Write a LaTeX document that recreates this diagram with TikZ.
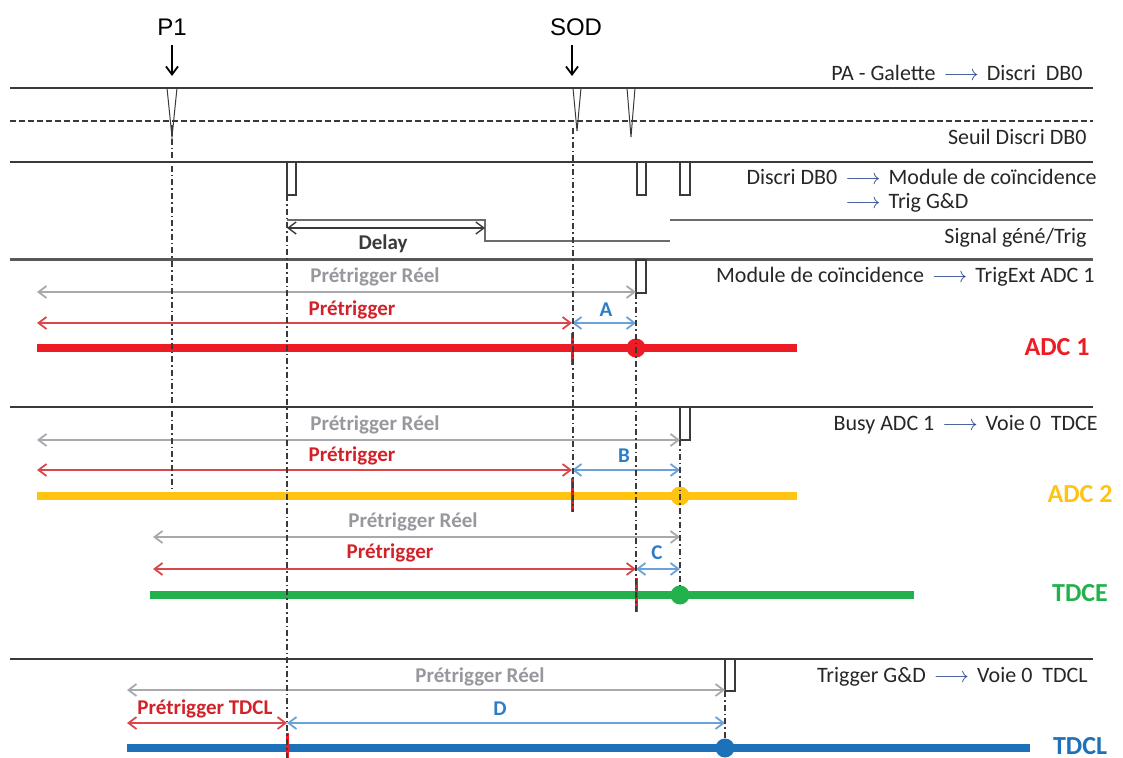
\documentclass[tikz,border=0pt]{standalone}
\usepackage{fontspec}
\setmainfont{Carlito}
\newfontfamily\arialfont{Liberation Sans}
\usetikzlibrary{positioning, arrows.meta, calc}
\definecolor{sigDark}{HTML}{3A3A3A}
\definecolor{sigGray}{HTML}{A8A8AE}
\definecolor{sigRed}{HTML}{D22229}
\definecolor{sigRedSoft}{HTML}{D9474D}
\definecolor{sigBlue}{HTML}{2D7CC6}
\definecolor{sigBlueSoft}{HTML}{6AA2D9}
\definecolor{sigNavy}{HTML}{2F4B8C}
\definecolor{barRed}{HTML}{ED1C24}
\definecolor{barYellow}{HTML}{FFC412}
\definecolor{barGreen}{HTML}{22B14C}
\definecolor{barBlue}{HTML}{1C71B8}
\newcommand{\toarrow}{\kern4pt{\color{sigNavy}$\longrightarrow$}\kern4pt}

\begin{document}
\begin{tikzpicture}[x=0.5pt, y=-0.5pt,
    >={Straight Barb[length=4pt, width=6pt]},
    wire/.style={draw=sigDark, line width=0.9pt},
    wireSoft/.style={draw=sigDark!75, line width=1.1pt},
    wireBold/.style={draw=sigDark!85, line width=1.5pt},
    thresh/.style={draw=sigDark, line width=0.7pt, dash pattern=on 3pt off 1.5pt},
    vGuide/.style={draw=sigDark, line width=0.6pt, dash pattern=on 3pt off 1.5pt on 0.8pt off 1.5pt},
    pulseBox/.style={draw=sigDark, line width=0.6pt, fill=white},
    spike/.style={draw=sigDark, line width=0.5pt},
    evArrow/.style={draw=black, line width=0.9pt, -{Straight Barb[length=4pt, width=6pt]}},
    dimGray/.style={draw=sigGray, line width=0.9pt, <->},
    dimRed/.style={draw=sigRedSoft, line width=0.9pt, <->},
    dimBlue/.style={draw=sigBlueSoft, line width=0.9pt, <->},
    dimDark/.style={draw=sigDark, line width=0.7pt, <->},
    chanBar/.style={line width=4.3pt},
    trigTick/.style={draw=barRed, line width=1.5pt},
    evDot/.style={circle, inner sep=0pt, minimum size=9.5pt},
    sigLabel/.style={font=\fontsize{11}{13}\selectfont, text=black!85, anchor=east, inner sep=0pt},
    grayLabel/.style={font=\fontsize{10.5}{12}\selectfont\bfseries, text=sigGray!90!black, inner sep=0pt},
    redLabel/.style={font=\fontsize{10.5}{12}\selectfont\bfseries, text=sigRed, inner sep=0pt},
    blueLabel/.style={font=\fontsize{10.5}{12}\selectfont\bfseries, text=sigBlue, inner sep=0pt},
    chanLabel/.style={font=\fontsize{13}{15}\selectfont\bfseries, inner sep=0pt},
    evLabel/.style={font=\fontsize{12}{14}\selectfont\arialfont, inner sep=0pt},
]
\useasboundingbox (0,0) rectangle (1123,758);

% events
\node[evLabel] (p1)  at (172,27) {P1};
\node[evLabel] (sod) at (576,27) {SOD};
\coordinate (p1Tip)  at (172,76);
\coordinate (sodTip) at (572,76);
\draw[evArrow] (p1)  ++(0,18) -- (p1Tip);
\draw[evArrow] (sod) ++(-4,18) -- (sodTip);

% PA - Galette
\draw[wire] (10,88) -- (1093,88);
\draw[thresh] (10,121) -- (1093,121);
\draw[spike] (167,88) -- (172,137) -- (177,88);
\draw[spike] (573,88) -- (577,131) -- (581,88);
\draw[spike] (627,88) -- (631,137) -- (635,88);
\node[sigLabel] (lblPA)    at (1083,73)  {PA - Galette\toarrow Discri\ \ DB0};
\node[sigLabel] (lblSeuil) at (1087,137) {Seuil Discri DB0};

% Discri DB0
\draw[wire] (10,162) -- (1093,162);
\draw[pulseBox] (287,162) rectangle (296,195);
\draw[pulseBox] (637,162) rectangle (646,195);
\draw[pulseBox] (680,162) rectangle (690,195);
\node[sigLabel] (lblDiscri) at (1097,191)
    {\begin{tabular}{@{}l@{}l@{}l@{}}Discri DB0 &\toarrow& Module de coïncidence\\[-1pt]
     &\toarrow& Trig G\&D\end{tabular}};

% Signal gene / Trig
\draw[wireSoft] (287,220) -- (485,220) -- (485,241) -- (670,241);
\draw[wireSoft] (670,220) -- (1093,220);
\draw[dimDark] (287,228) -- (485,228);
\node[font=\fontsize{10.5}{12}\selectfont\bfseries, text=sigDark, inner sep=0pt] (lblDelay) at (383,244) {Delay};
\node[sigLabel] (lblGene) at (1087,238) {Signal géné/Trig};

% ADC 1
\draw[wireBold] (10,260) -- (1093,260);
\draw[pulseBox] (636,260) rectangle (646,293);
\node[sigLabel] (lblMod) at (1095,277) {Module de coïncidence\toarrow TrigExt ADC 1};
\draw[dimGray] (37,292) -- (636,292);
\node[grayLabel] at (375,277) {Prétrigger Réel};
\draw[dimRed] (37,323) -- (572,323);
\node[redLabel] at (352,310) {Prétrigger};
\draw[dimBlue] (572,323) -- (636,323);
\node[blueLabel] at (606,310) {A};
\draw[chanBar, barRed] (37,348) -- (797,348);
\draw[trigTick] (572,333) -- (572,365);
\node[evDot, fill=barRed] (dotA) at (636,348) {};
\node[chanLabel, text=barRed] (adcA) at (1057,347) {ADC 1};

% ADC 2
\draw[wire] (10,407) -- (1093,407);
\draw[pulseBox] (680,407) rectangle (690,440);
\node[sigLabel] (lblBusy) at (1098,425) {Busy ADC 1\toarrow Voie 0\ \ TDCE};
\draw[dimGray] (37,440) -- (680,440);
\node[grayLabel] at (375,425) {Prétrigger Réel};
\draw[dimRed] (37,470) -- (572,470);
\node[redLabel] at (352,456) {Prétrigger};
\draw[dimBlue] (572,470) -- (680,470);
\node[blueLabel] at (624,456) {B};
\draw[chanBar, barYellow] (37,496) -- (797,496);
\draw[trigTick] (572,478) -- (572,512);
\node[evDot, fill=barYellow] (dotB) at (680,496) {};
\node[chanLabel, text=barYellow] (adcB) at (1080,494) {ADC 2};

% TDCE
\draw[dimGray] (153,537) -- (680,537);
\node[grayLabel] at (413,522) {Prétrigger Réel};
\draw[dimRed] (153,569) -- (636,569);
\node[redLabel] at (390,553) {Prétrigger};
\draw[dimBlue] (636,569) -- (680,569);
\node[blueLabel] at (657,553) {C};
\draw[chanBar, barGreen] (150,595) -- (914,595);
\draw[trigTick] (636,578) -- (636,612);
\node[evDot, fill=barGreen] (dotC) at (680,595) {};
\node[chanLabel, text=barGreen] (tdce) at (1080,593) {TDCE};

% TDCL
\draw[wire] (10,659) -- (1093,659);
\draw[pulseBox] (725,659) rectangle (735,691);
\node[sigLabel] (lblTrig) at (1088,677) {Trigger G\&D\toarrow Voie 0\ \ TDCL};
\draw[dimGray] (127,690) -- (725,690);
\node[grayLabel] at (480,677) {Prétrigger Réel};
\draw[dimRed] (127,723) -- (287,723);
\node[redLabel] at (205,709) {Prétrigger TDCL};
\draw[dimBlue] (287,723) -- (725,723);
\node[blueLabel] at (500,709) {D};
\draw[chanBar, barBlue] (127,748) -- (1030,748);
\draw[trigTick] (287,733) -- (287,760);
\node[evDot, fill=barBlue] (dotD) at (725,748) {};
\node[chanLabel, text=barBlue] (tdcl) at (1080,746) {TDCL};

% guides
\draw[vGuide] (172,125) -- (172,492);
\draw[vGuide] (287,195) -- (287,758);
\draw[vGuide] (573,128) -- (573,512);
\draw[vGuide] (636,293) -- (636,612);
\draw[vGuide] (680,440) -- (dotC);
\draw[vGuide] (725,691) -- (dotD);
\end{tikzpicture}
\end{document}
